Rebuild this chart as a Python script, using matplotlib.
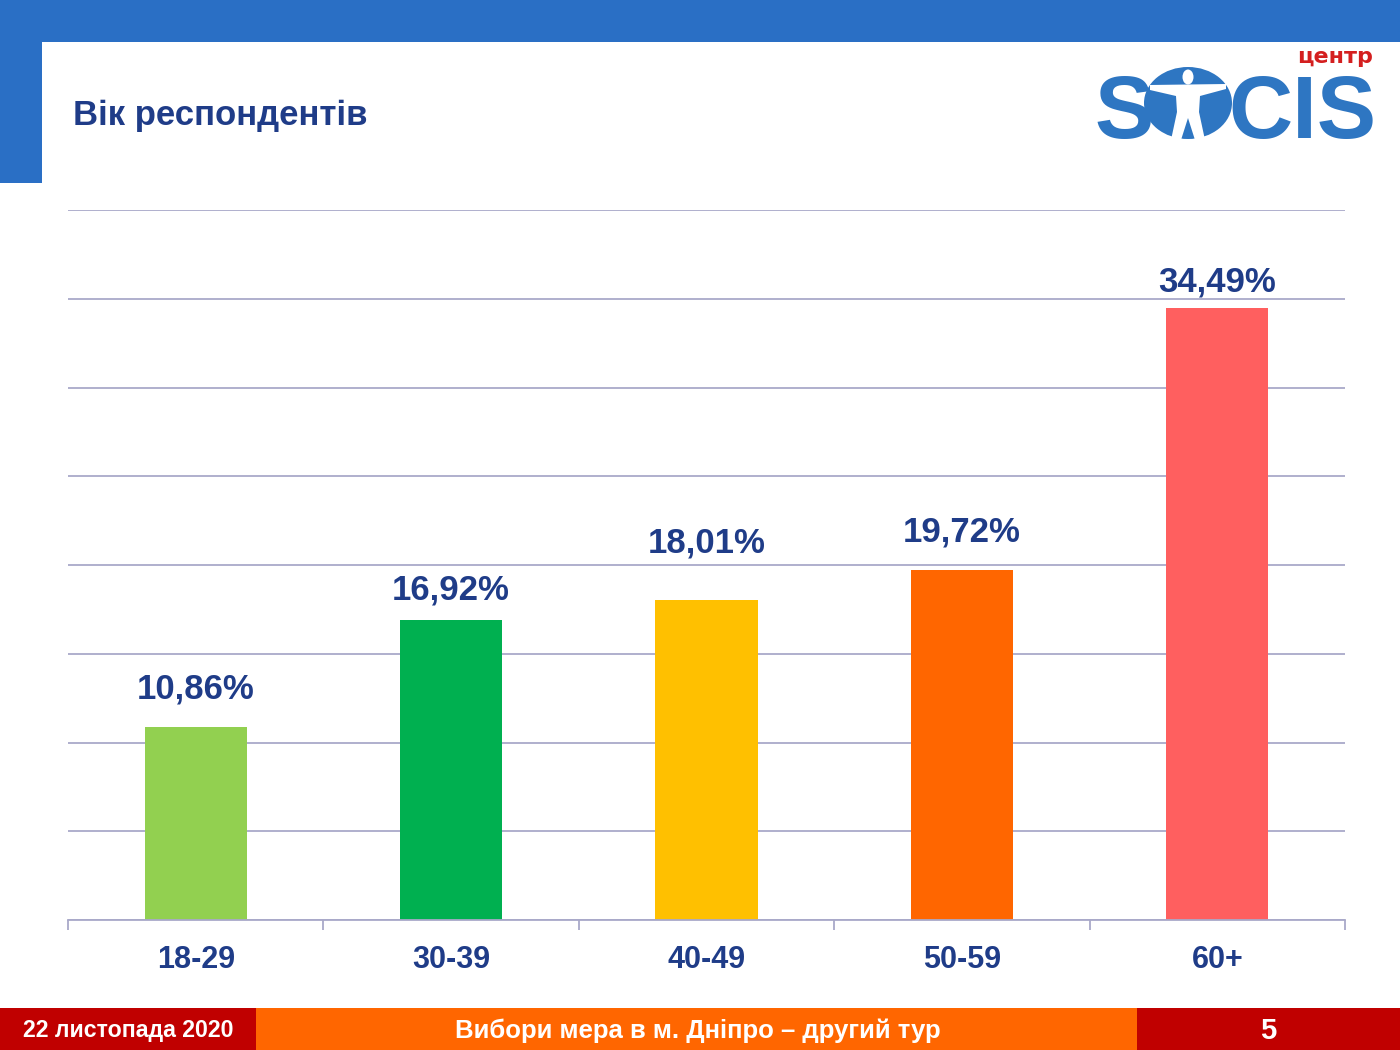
import matplotlib
matplotlib.use("Agg")
import matplotlib.pyplot as plt
from matplotlib.patches import Rectangle, Ellipse, Polygon

plt.rcParams['font.family'] = ['Liberation Sans', 'DejaVu Sans']

categories = ["18-29", "30-39", "40-49", "50-59", "60+"]
values = [10.86, 16.92, 18.01, 19.72, 34.49]
labels = ["10,86%", "16,92%", "18,01%", "19,72%", "34,49%"]
colors = ["#92D050", "#00B050", "#FFC000", "#FF6600", "#FF5F5F"]

title = "Вік респондентів"
footer_left = "22 листопада 2020"
footer_mid = "Вибори мера в м. Дніпро – другий тур"
footer_right = "5"
logo_small = "центр"

# label offsets above bar tops (points), as placed in the original slide
label_offsets = [27.5, 21.5, 41, 27.5, 18.5]

W, H = 1400, 1050
fig = plt.figure(figsize=(14, 10.5), dpi=100)
fig.patch.set_facecolor("white")

navy = "#1F3C88"
grid_c = "#A9A9C9"

# chart axes
ax = fig.add_axes([68 / W, 1 - 920 / H, (1345 - 68) / W, (920 - 210) / H])
x = list(range(len(categories)))
ax.bar(x, values, width=0.4, color=colors, zorder=2)
ax.set_xlim(-0.5, len(categories) - 0.5)
ax.set_ylim(0, 40)
ax.set_yticks([5 * i for i in range(9)])
ax.yaxis.grid(True, color=grid_c, linewidth=1.3, zorder=0)
ax.tick_params(axis='y', left=False, labelleft=False)
for s in ["top", "right", "left"]:
    ax.spines[s].set_visible(False)
ax.spines["bottom"].set_color(grid_c)
ax.spines["bottom"].set_linewidth(1.3)
ax.set_xticks([i - 0.5 for i in range(len(categories) + 1)], minor=False)
ax.set_xticklabels([])
ax.tick_params(axis='x', which='major', length=7, color=grid_c, width=1.3)
ax.set_xticks(x, minor=True)
ax.set_xticklabels(categories, minor=True)
ax.tick_params(axis='x', which='minor', length=0, pad=18, labelsize=22,
               labelcolor=navy)
for t in ax.get_xticklabels(minor=True):
    t.set_fontweight("bold")
for xi, v, lab, off in zip(x, values, labels, label_offsets):
    ax.annotate(lab, (xi, v), xytext=(0, off), textcoords="offset points",
                ha="center", va="center", fontsize=25, fontweight="bold",
                color=navy, zorder=3)

# overlay in pixel coordinates
ov = fig.add_axes([0, 0, 1, 1], zorder=5)
ov.set_xlim(0, W)
ov.set_ylim(H, 0)
ov.axis("off")
ov.patch.set_alpha(0)

blue = "#2A6FC5"
ov.add_patch(Rectangle((0, 0), W, 42, color=blue, lw=0))
ov.add_patch(Rectangle((0, 0), 42, 183, color=blue, lw=0))
ov.text(73, 115, title, fontsize=25, fontweight="bold", color=navy,
        ha="left", va="center")

# footer
ov.add_patch(Rectangle((0, 1008), 256, 42, color="#C00000", lw=0))
ov.add_patch(Rectangle((256, 1008), 1137 - 256, 42, color="#FF6600", lw=0))
ov.add_patch(Rectangle((1137, 1008), W - 1137, 42, color="#C00000", lw=0))
ov.text(128, 1030, footer_left, fontsize=16.7, fontweight="bold", color="white",
        ha="center", va="center")
ov.text(698, 1031, footer_mid, fontsize=18.5, fontweight="bold", color="white",
        ha="center", va="center")
ov.text(1268, 1031, footer_right, fontsize=21, fontweight="bold", color="white",
        ha="center", va="center")

# logo
lb = "#2E76C2"
lf = dict(fontsize=64, fontweight="bold", color=lb, family="Liberation Sans",
          va="baseline")
ov.text(1094, 138, "S", ha="left", **lf)
ov.text(1376, 138, "CIS", ha="right", **lf)
ov.add_patch(Ellipse((1188, 103), 88, 72, color=lb, lw=0))
ov.add_patch(Ellipse((1188, 77), 11, 15, color="white", lw=0))
ov.add_patch(Polygon([(1150, 85), (1226, 84), (1226, 89), (1200, 96),
                      (1199, 112), (1205, 140), (1195, 140), (1188, 118),
                      (1181, 140), (1171, 140), (1177, 112), (1176, 96),
                      (1150, 90)], closed=True, color="white", lw=0))
ov.text(1335, 63, logo_small, fontsize=16, fontweight="bold", color="#D41F1F",
        family="DejaVu Sans", ha="center", va="baseline")

fig.savefig("out.png", dpi=100)
